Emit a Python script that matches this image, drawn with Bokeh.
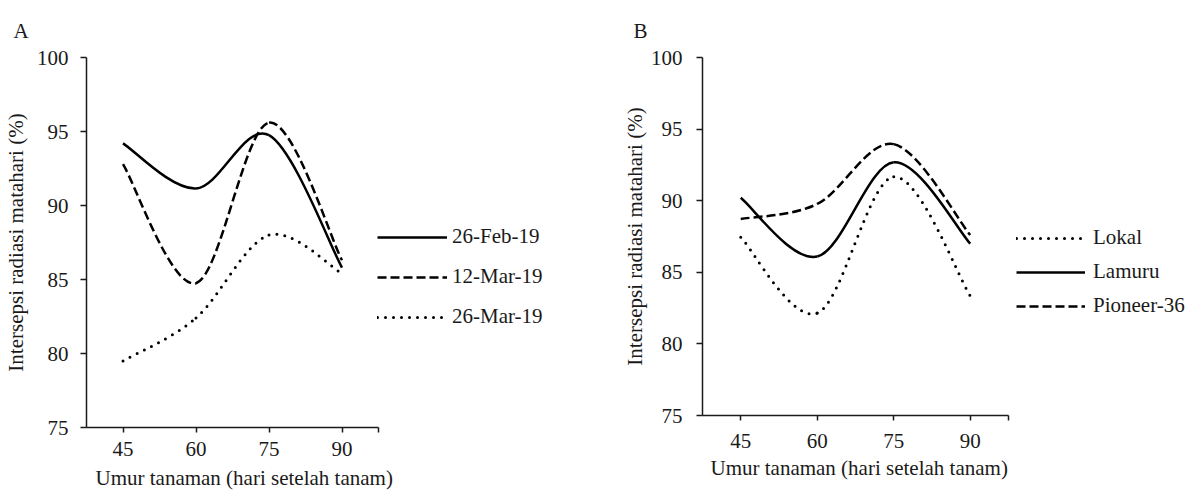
from bokeh.plotting import figure
from bokeh.models import Legend, LegendItem, FixedTicker, Range1d, Title
from bokeh.layouts import row
from bokeh.embed import file_html
from bokeh.resources import INLINE

# ---- data ----
days = [45, 60, 75, 90]
y_ticks = [75, 80, 85, 90, 95, 100]
x_label = "Umur tanaman (hari setelah tanam)"
y_label = "Intersepsi radiasi matahari (%)"

a_names = ["26-Feb-19", "12-Mar-19", "26-Mar-19"]
a_feb26 = [94.2, 91.15, 94.75, 85.8]
a_mar12 = [92.8, 84.75, 95.6, 86.3]
a_mar26 = [79.5, 82.4, 88.0, 85.4]

b_names = ["Lokal", "Lamuru", "Pioneer-36"]
b_lokal = [87.45, 82.15, 91.67, 83.35]
b_lamuru = [90.2, 86.1, 92.68, 87.0]
b_pioneer = [88.72, 89.77, 93.95, 87.6]

FONT = "Liberation Serif"
FS = "21px"
TXT = "#1a1a1a"
X0, X1 = 37.5, 97.5

STYLES = {
    "solid": dict(line_width=2.5, line_dash="solid", line_cap="butt"),
    "dashed": dict(line_width=2.5, line_dash="9 4", line_cap="butt"),
    "dotted": dict(line_width=3, line_dash="0 8", line_cap="round"),
}


def smooth_segments(xs, ys):
    """Excel-like smoothed line: cubic Bezier control points from neighbours."""
    n = len(xs)
    seg = dict(x0=[], y0=[], x1=[], y1=[], cx0=[], cy0=[], cx1=[], cy1=[])
    for i in range(n - 1):
        xp, yp = (xs[i - 1], ys[i - 1]) if i > 0 else (xs[i], ys[i])
        xn, yn = (xs[i + 2], ys[i + 2]) if i + 2 < n else (xs[i + 1], ys[i + 1])
        seg["x0"].append(xs[i]); seg["y0"].append(ys[i])
        seg["x1"].append(xs[i + 1]); seg["y1"].append(ys[i + 1])
        seg["cx0"].append(xs[i] + (xs[i + 1] - xp) / 6)
        seg["cy0"].append(ys[i] + (ys[i + 1] - yp) / 6)
        seg["cx1"].append(xs[i + 1] - (xn - xs[i]) / 6)
        seg["cy1"].append(ys[i + 1] - (yn - ys[i]) / 6)
    return seg


def make_panel(title, width, height, left, axis_px, series, cfg):
    frame_w = width - left
    x_end = X0 + frame_w * (X1 - X0) / axis_px
    p = figure(width=width, height=height, x_range=Range1d(X0, x_end), y_range=Range1d(75, 100),
               toolbar_location=None, output_backend="svg", title=title,
               min_border_left=left, min_border_right=0, min_border_top=57,
               min_border_bottom=67)
    p.outline_line_color = None
    p.grid.visible = False
    p.background_fill_color = "white"
    p.border_fill_color = "white"

    p.title.text_font = FONT
    p.title.text_font_size = FS
    p.title.text_font_style = "normal"
    p.title.text_color = TXT
    p.title.align = "left"
    p.title.offset = cfg["title_off"]
    p.title.standoff = 30

    xa = p.xaxis[0]
    xa.bounds = (X0, X1)
    xa.ticker = FixedTicker(ticks=days + [X1])
    xa.major_label_overrides = {X1: ""}
    xa.minor_tick_line_color = None
    xa.major_tick_in = 0
    xa.major_tick_out = 5
    xa.axis_line_width = 1.5
    xa.major_tick_line_width = 1.5
    xa.axis_line_color = "#1a1a1a"
    xa.major_tick_line_color = "#1a1a1a"
    xa.major_label_text_font = FONT
    xa.major_label_text_font_size = FS
    xa.major_label_text_color = TXT
    xa.major_label_standoff = cfg["xs"]

    xt = Title(text=x_label, align="left", offset=cfg["xl_off"], standoff=cfg["xls"],
               text_font=FONT, text_font_size=FS, text_font_style="normal",
               text_color=TXT)
    p.add_layout(xt, "below")

    ya = p.yaxis[0]
    ya.ticker = FixedTicker(ticks=y_ticks)
    ya.minor_tick_line_color = None
    ya.major_tick_in = 0
    ya.major_tick_out = 6
    ya.axis_line_width = 1.5
    ya.major_tick_line_width = 1.5
    ya.axis_line_color = "#1a1a1a"
    ya.major_tick_line_color = "#1a1a1a"
    ya.major_label_text_font = FONT
    ya.major_label_text_font_size = FS
    ya.major_label_text_color = TXT
    ya.major_label_standoff = cfg["ys"]
    ya.axis_label = y_label
    ya.axis_label_text_font = FONT
    ya.axis_label_text_font_size = FS
    ya.axis_label_text_font_style = "normal"
    ya.axis_label_text_color = TXT
    ya.axis_label_standoff = cfg["yls"]

    items = []
    for name, vals, style in series:
        r = p.bezier(source=smooth_segments(days, vals), x0="x0", y0="y0", x1="x1", y1="y1",
                     cx0="cx0", cy0="cy0", cx1="cx1", cy1="cy1", line_color="black",
                     **STYLES[style])
        items.append(LegendItem(label=name, renderers=[r]))

    legend = Legend(items=items, location=cfg["loc"], margin=0, padding=0,
                    glyph_width=cfg["gw"], glyph_height=24, label_height=24,
                    spacing=cfg["spacing"], label_standoff=cfg["standoff"],
                    label_text_font=FONT, label_text_font_size=FS,
                    label_text_color=TXT, border_line_color=None,
                    background_fill_alpha=0)
    p.add_layout(legend, "center")
    return p


pA = make_panel("A", 600, 495, 86, 292,
                [(a_names[0], a_feb26, "solid"), (a_names[1], a_mar12, "dashed"),
                 (a_names[2], a_mar26, "dotted")],
                dict(title_off=-73, loc=(291, 98), gw=70, spacing=15, standoff=5,
                     xs=9, xls=10, xl_off=9, ys=12, yls=6))
pB = make_panel("B", 585, 483, 102, 306,
                [(b_names[0], b_lokal, "dotted"), (b_names[1], b_lamuru, "solid"),
                 (b_names[2], b_pioneer, "dashed")],
                dict(title_off=-69, loc=(314, 97), gw=69, spacing=9, standoff=8,
                     xs=13, xls=7, xl_off=8, ys=14, yls=1))

layout = row(pA, pB)
open("out.html", "w").write(file_html(layout, INLINE))
